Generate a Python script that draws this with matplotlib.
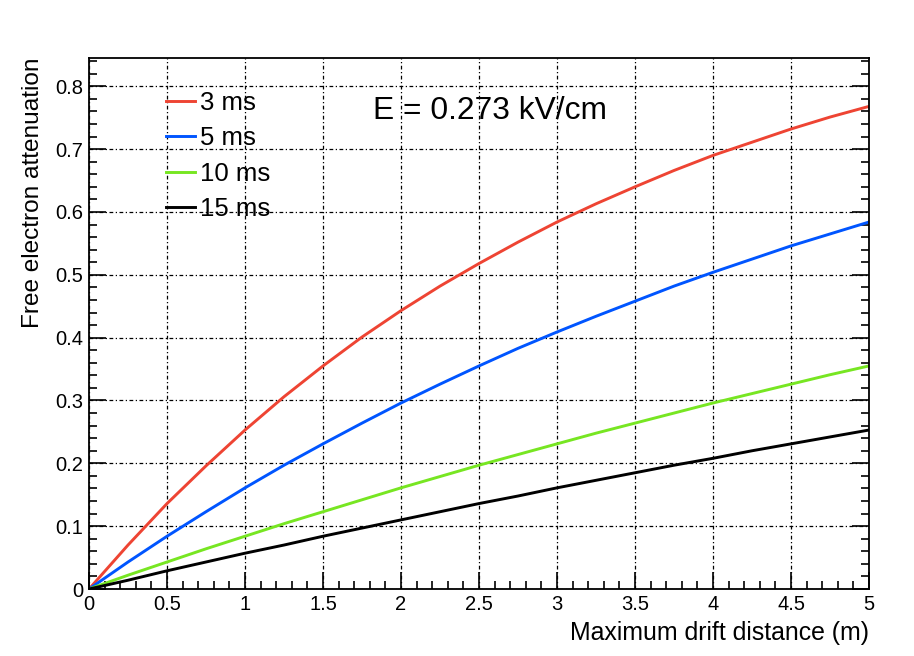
import matplotlib
matplotlib.use("Agg")
import matplotlib.pyplot as plt
from matplotlib.ticker import MultipleLocator, FuncFormatter

plt.rcParams['font.family'] = ['Liberation Sans', 'DejaVu Sans']

# drift distance (m)
distance = [0, 0.25, 0.5, 0.75, 1, 1.25, 1.5, 1.75, 2, 2.25, 2.5,
            2.75, 3, 3.25, 3.5, 3.75, 4, 4.25, 4.5, 4.75, 5]

# attenuation, per electron lifetime
att_3ms = [0, 0.070, 0.136, 0.196, 0.253, 0.306, 0.355, 0.401, 0.443, 0.482, 0.518,
           0.552, 0.584, 0.613, 0.640, 0.666, 0.690, 0.711, 0.732, 0.751, 0.768]
att_5ms = [0, 0.043, 0.084, 0.123, 0.161, 0.197, 0.231, 0.264, 0.296, 0.326, 0.355,
           0.383, 0.409, 0.434, 0.458, 0.482, 0.504, 0.525, 0.546, 0.565, 0.584]
att_10ms = [0, 0.022, 0.043, 0.064, 0.084, 0.104, 0.123, 0.142, 0.161, 0.179, 0.197,
            0.214, 0.231, 0.248, 0.264, 0.280, 0.296, 0.311, 0.326, 0.341, 0.355]
att_15ms = [0, 0.014, 0.029, 0.043, 0.057, 0.070, 0.084, 0.097, 0.110, 0.123, 0.136,
            0.148, 0.161, 0.173, 0.185, 0.197, 0.208, 0.220, 0.231, 0.242, 0.253]

labels = ["3 ms", "5 ms", "10 ms", "15 ms"]
colors = ["#ee4433", "#0055ff", "#77e622", "black"]

fig = plt.figure(figsize=(9.14, 6.56), dpi=100)
ax = fig.add_axes([0.0974, 0.1021, 0.8534, 0.8095])

for ys, lab, c in zip([att_3ms, att_5ms, att_10ms, att_15ms], labels, colors):
    ax.plot(distance, ys, color=c, lw=2.1, label=lab)

ax.set_xlim(0, 5)
ax.set_ylim(0, 0.845)

ax.xaxis.set_major_locator(MultipleLocator(0.5))
ax.xaxis.set_minor_locator(MultipleLocator(0.1))
ax.yaxis.set_major_locator(MultipleLocator(0.1))
ax.yaxis.set_minor_locator(MultipleLocator(0.02))
ax.xaxis.set_major_formatter(FuncFormatter(lambda v, p: "%g" % v))
ax.yaxis.set_major_formatter(FuncFormatter(lambda v, p: "%g" % v))

ax.tick_params(which='both', direction='in', right=True, top=False, labelsize=14.5, width=1.2)
ax.tick_params(which='major', length=12, pad=4)
ax.tick_params(which='minor', length=6)
for s in ax.spines.values():
    s.set_linewidth(1.3)

ax.grid(True, which='major', color='black', lw=0.9, linestyle=(0, (3, 2, 1, 2)))

ax.set_xlabel("Maximum drift distance (m)", fontsize=17.9, loc='right', labelpad=5)
ax.set_ylabel("Free electron attenuation", fontsize=17.6, loc='top', labelpad=8)

ax.legend(loc='upper left', bbox_to_anchor=(0.085, 0.958), frameon=False,
          fontsize=18.5, handlelength=1.13, handletextpad=0.2, labelspacing=0.45,
          borderaxespad=0)

ax.text(0.364, 0.900, "E = 0.273 kV/cm", transform=ax.transAxes, fontsize=22.9,
        ha='left', va='center')

fig.savefig("out.png", dpi=100)
